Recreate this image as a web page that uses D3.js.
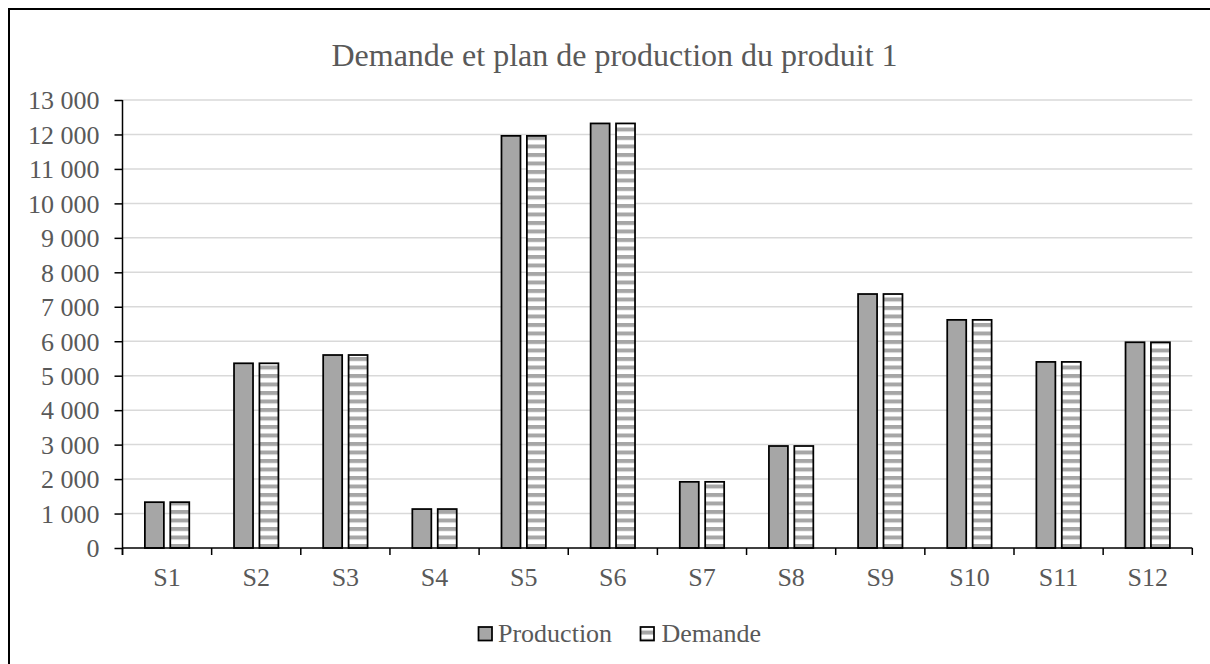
<!DOCTYPE html>
<html>
<head>
<meta charset="utf-8">
<script src="https://cdn.jsdelivr.net/npm/d3@7"></script>
<style>
  html, body { margin: 0; padding: 0; background: #fff; }
  svg { display: block; }
  text { font-family: "Liberation Serif", "Times New Roman", serif; fill: #595959; }
</style>
</head>
<body>
<svg id="chart" width="1210" height="664"></svg>
<script>
const title = "Demande et plan de production du produit 1";
const categories = ["S1","S2","S3","S4","S5","S6","S7","S8","S9","S10","S11","S12"];
const seriesNames = ["Production", "Demande"];
const production = [1330, 5360, 5600, 1130, 11960, 12320, 1920, 2960, 7370, 6620, 5400, 5970];
const demande    = [1330, 5360, 5600, 1130, 11960, 12320, 1920, 2960, 7370, 6620, 5400, 5970];
const yTicks = [0,1000,2000,3000,4000,5000,6000,7000,8000,9000,10000,11000,12000,13000];

const svg = d3.select("#chart");
const W = 1210, H = 664;
const plot = {left: 122.5, right: 1192.3, top: 100, bottom: 548};

// pattern
const defs = svg.append("defs");
const pat = defs.append("pattern").attr("id","hstripes")
  .attr("patternUnits","userSpaceOnUse").attr("width",8).attr("height",8.5);
pat.append("rect").attr("width",8).attr("height",8.5).attr("fill","#ffffff");
pat.append("rect").attr("y",0).attr("width",8).attr("height",4).attr("fill","#a6a6a6");

const fills = {"Production": "#a6a6a6", "Demande": "url(#hstripes)"};

// border
svg.append("rect").attr("x",9).attr("y",9).attr("width",W+20).attr("height",H+20)
  .attr("fill","none").attr("stroke","#000").attr("stroke-width",2);

// scales
const x0 = d3.scaleBand().domain(categories).range([plot.left, plot.right]).padding(0);
const bw = x0.bandwidth();
const x1 = d3.scaleBand().domain(seriesNames).range([bw*0.251, bw*0.749]).paddingInner(0.252).paddingOuter(0);
const y = d3.scaleLinear().domain([0, 13000]).range([plot.bottom, plot.top]);

const locale = d3.formatLocale({decimal: ",", thousands: " ", grouping: [3], currency: ["", ""]});
const fmt = locale.format(",d");

// gridlines
svg.append("g").selectAll("line").data(yTicks.filter(d => d > 0)).join("line")
  .attr("x1", plot.left).attr("x2", plot.right)
  .attr("y1", d => y(d)).attr("y2", d => y(d))
  .attr("stroke", "#d9d9d9").attr("stroke-width", 1.5);

// y axis
const yAxis = d3.axisLeft(y).tickValues(yTicks).tickFormat(fmt).tickSize(8).tickPadding(15);
const gy = svg.append("g").attr("transform", `translate(${plot.left},0)`).call(yAxis);
gy.select(".domain").attr("stroke","#000").attr("stroke-width",1.5).attr("d", `M0,${plot.top}V${plot.bottom+7}`);
gy.selectAll(".tick line").attr("stroke","#000").attr("stroke-width",1.5);
gy.selectAll(".tick text").attr("font-size", 26).attr("fill","#595959")
  .attr("font-family","Liberation Serif, Times New Roman, serif").attr("dy","0.34em");

// bars
const data = categories.map((c, i) => ({cat: c, values: [
  {name: "Production", v: production[i]},
  {name: "Demande", v: demande[i]}
]}));
const groups = svg.append("g").selectAll("g").data(data).join("g")
  .attr("transform", d => `translate(${x0(d.cat)},0)`);
groups.selectAll("rect").data(d => d.values).join("rect")
  .attr("x", d => x1(d.name))
  .attr("width", x1.bandwidth())
  .attr("y", d => y(d.v))
  .attr("height", d => y(0) - y(d.v))
  .attr("fill", d => fills[d.name])
  .attr("stroke", "#000").attr("stroke-width", 1.75);

// x axis
const xAxis = d3.axisBottom(x0).tickSize(0).tickPadding(20);
const gx = svg.append("g").attr("transform", `translate(0,${plot.bottom})`).call(xAxis);
gx.select(".domain").attr("stroke","#000").attr("stroke-width",1.5).attr("d", `M${plot.left},0H${plot.right}`);
gx.selectAll(".tick text").attr("font-size", 26).attr("fill","#595959")
  .attr("font-family","Liberation Serif, Times New Roman, serif").attr("dy","0.71em");
// boundary ticks
const bounds = categories.map(c => x0(c)).concat([plot.right]);
gx.append("g").selectAll("line").data(bounds).join("line")
  .attr("x1", d => d).attr("x2", d => d).attr("y1", 0).attr("y2", 7)
  .attr("stroke","#000").attr("stroke-width",1.5);

// title
svg.append("text").attr("x", 614.5).attr("y", 66).attr("text-anchor","middle")
  .attr("font-size", 32).text(title);

// legend
const legendItems = [
  {name: "Production", mx: 478.5, tx: 498},
  {name: "Demande", mx: 640.5, tx: 661.5}
];
const lg = svg.append("g");
legendItems.forEach(it => {
  lg.append("rect").attr("x", it.mx).attr("y", 627).attr("width", 13.5).attr("height", 13.5)
    .attr("fill", it.name === "Production" ? "#a6a6a6" : "url(#legstripes)")
    .attr("stroke","#000").attr("stroke-width",1.75);
  lg.append("text").attr("x", it.tx).attr("y", 642).attr("font-size", 26).text(it.name);
});
const lpat = defs.append("pattern").attr("id","legstripes")
  .attr("patternUnits","userSpaceOnUse").attr("width",8).attr("height",8.5).attr("y", 628);
lpat.append("rect").attr("width",8).attr("height",8.5).attr("fill","#ffffff");
lpat.append("rect").attr("y",2.5).attr("width",8).attr("height",4).attr("fill","#a6a6a6");
</script>
</body>
</html>
